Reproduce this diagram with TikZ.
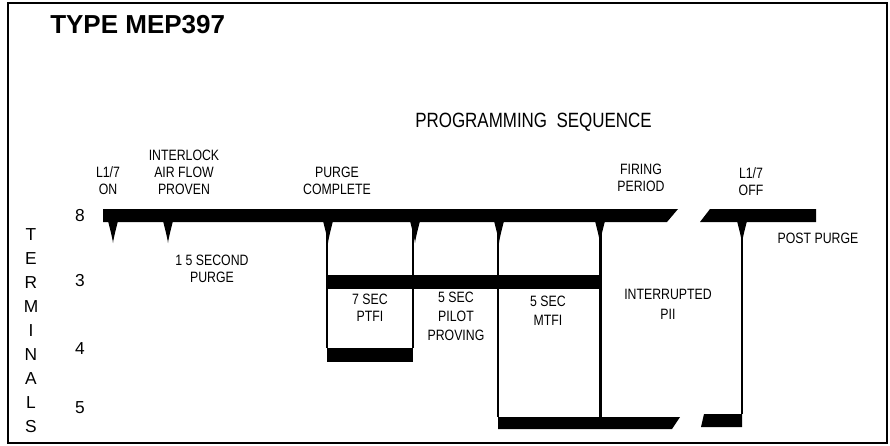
\documentclass[tikz,border=0pt]{standalone}
\usepackage{fontspec}
\setmainfont{Liberation Sans}
\newfontfamily\narrowfont[FakeStretch=0.82]{Liberation Sans}

\begin{document}
\begin{tikzpicture}[x=0.75pt,y=0.75pt,yscale=-1,xscale=1,
  bar/.style={fill=black,draw=none},
  lbl/.style={inner sep=0pt,align=center,font=\narrowfont\fontsize{11.25}{12.75}\selectfont},
  term/.style={inner sep=0pt,align=center,font=\fontsize{13}{18}\selectfont}]
\useasboundingbox (0,0) rectangle (890,446);

%Frame
\draw [line width=2pt] (8,3) rectangle (887,443);

%Bars [terminal 8]
\fill [bar] (103,209) -- (678,209) -- (667,222) -- (103,222) -- cycle;
\fill [bar] (710,209) -- (816,209) -- (816,222) -- (700,222) -- cycle;
%Bars [terminal 3]
\fill [bar] (327,275) rectangle (600,289);
%Bars [terminal 4]
\fill [bar] (327,348) rectangle (413,362);
%Bars [terminal 5]
\fill [bar] (498,417) -- (680,417) -- (672,429) -- (498,429) -- cycle;
\fill [bar] (704,414) -- (742,414) -- (742,427) -- (701,427) -- cycle;

%Straight Lines
\draw [line width=0.9pt] (327,222) -- (327,348) ;
\draw [line width=0.9pt] (413,222) -- (413,348) ;
\draw [line width=0.9pt] (498,222) -- (498,417) ;
\draw [line width=2.25pt] (600,222) -- (600,429) ;
\draw [line width=0.9pt] (742,222) -- (742,414) ;

%Shape: ticks
\fill (113,221) ++(-5,0) .. controls +(1.5,6) and +(-0.8,-6) .. ++(5,22) .. controls +(0.8,-6) and +(-1.5,6) .. ++(5,-22) -- cycle;
\fill (168,221) ++(-5,0) .. controls +(1.5,6) and +(-0.8,-6) .. ++(5,22) .. controls +(0.8,-6) and +(-1.5,6) .. ++(5,-22) -- cycle;
\fill (328,221) ++(-5,0) .. controls +(1.5,6) and +(-0.8,-6) .. ++(5,22) .. controls +(0.8,-6) and +(-1.5,6) .. ++(5,-22) -- cycle;
\fill (415,221) ++(-5,0) .. controls +(1.5,6) and +(-0.8,-6) .. ++(5,22) .. controls +(0.8,-6) and +(-1.5,6) .. ++(5,-22) -- cycle;
\fill (499,221) ++(-5,0) .. controls +(1.5,6) and +(-0.8,-6) .. ++(5,22) .. controls +(0.8,-6) and +(-1.5,6) .. ++(5,-22) -- cycle;
\fill (600,221) ++(-5,0) .. controls +(1.5,6) and +(-0.8,-6) .. ++(5,22) .. controls +(0.8,-6) and +(-1.5,6) .. ++(5,-22) -- cycle;
\fill (742,221) ++(-5,0) .. controls +(1.5,6) and +(-0.8,-6) .. ++(5,22) .. controls +(0.8,-6) and +(-1.5,6) .. ++(5,-22) -- cycle;

% Text Node
\draw (50,33) node (title) [anchor=base west,inner sep=0pt,font=\bfseries\fontsize{19.5}{22}\selectfont] {TYPE MEP397};
% Text Node
\draw (533.5,122.5) node (progseq) [inner sep=0pt,font=\narrowfont\fontsize{15.5}{17}\selectfont] {PROGRAMMING~~SEQUENCE};
% Text Node
\draw (108,181) node (lon) [lbl] {L1/7\\ON};
% Text Node
\draw (184,172.5) node (interlock) [lbl] {INTERLOCK\\AIR FLOW\\PROVEN};
% Text Node
\draw (337,181) node (purgedone) [lbl] {PURGE\\COMPLETE};
% Text Node
\draw (641,177.5) node (firing) [lbl] {FIRING\\PERIOD};
% Text Node
\draw (751,181.5) node (loff) [lbl] {L1/7\\OFF};
% Text Node
\draw (818,238) node (postpurge) [lbl] {POST PURGE};
% Text Node
\draw (212,269) node (purge) [lbl] {1 5 SECOND\\PURGE};
% Text Node
\draw (370,307.5) node (ptfi) [lbl] {7 SEC\\PTFI};
% Text Node
\draw (456,316.5) node (proving) [lbl,font=\narrowfont\fontsize{11.25}{14.25}\selectfont] {5 SEC\\PILOT\\PROVING};
% Text Node
\draw (548,311) node (mtfi) [lbl,font=\narrowfont\fontsize{11.25}{14.25}\selectfont] {5 SEC\\MTFI};
% Text Node
\draw (668,304.5) node (interrupted) [lbl,font=\narrowfont\fontsize{11.25}{15}\selectfont] {INTERRUPTED\\PII};

% Terminal numbers
\draw (80,216) node (t8) [term] {8};
\draw (80,281) node (t3) [term] {3};
\draw (80,349) node (t4) [term] {4};
\draw (80,408) node (t5) [term] {5};
% Text Node
\draw (31,330.5) node (terminals) [term] {T\\E\\R\\M\\I\\N\\A\\L\\S};

\end{tikzpicture}
\end{document}
